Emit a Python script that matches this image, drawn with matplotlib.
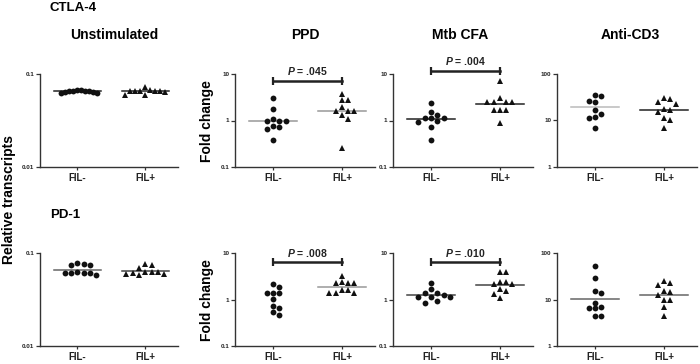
import numpy as np
import matplotlib
matplotlib.use('Agg')
import matplotlib.pyplot as plt

plt.rcParams['font.family'] = ['Liberation Sans', 'DejaVu Sans']
plt.rcParams['mathtext.fontset'] = 'custom'
plt.rcParams['mathtext.it'] = 'Liberation Sans:bold:italic'
plt.rcParams['mathtext.rm'] = 'Liberation Sans:bold'

# ---- data ----
groups = ['FIL-', 'FIL+']
stims = ['Unstimulated', 'PPD', 'Mtb CFA', 'Anti-CD3']
genes = ['CTLA-4', 'PD-1']

ctla_unstim_neg = [0.066, 0.068, 0.064, 0.065, 0.067, 0.063, 0.062, 0.066, 0.065, 0.064]
ctla_unstim_pos = [0.066, 0.065, 0.073, 0.067, 0.059, 0.059, 0.066, 0.065, 0.064, 0.066]
ctla_ppd_neg = [3.1, 1.77, 1.0, 1.0, 1.0, 1.08, 0.74, 0.66, 0.76, 0.39]
ctla_ppd_pos = [3.7, 2.7, 2.7, 1.95, 1.63, 1.63, 1.63, 1.3, 1.08, 0.25]
ctla_mtb_neg = [2.43, 1.53, 1.3, 1.16, 0.97, 1.11, 1.16, 0.91, 0.72, 0.385]
ctla_mtb_pos = [7.2, 3.0, 2.47, 2.47, 2.47, 2.47, 1.69, 1.69, 1.69, 0.88]
ctla_cd3_neg = [34, 35, 26.7, 24.5, 17.1, 14.1, 12, 11.4, 6.9]
ctla_cd3_pos = [29.9, 28.8, 25, 22.6, 17.7, 15.5, 16.6, 11.2, 10.2, 6.9]

pd1_unstim_neg = [0.079, 0.074, 0.074, 0.077, 0.061, 0.061, 0.0575, 0.061, 0.061, 0.062]
pd1_unstim_pos = [0.074, 0.069, 0.076, 0.063, 0.062, 0.061, 0.060, 0.058, 0.060, 0.062]
pd1_ppd_neg = [2.12, 1.86, 1.39, 1.39, 1.39, 1.01, 0.73, 0.645, 0.53, 0.47]
pd1_ppd_pos = [3.19, 2.38, 2.26, 2.26, 2.26, 1.58, 1.41, 1.41, 1.41, 1.58]
pd1_mtb_neg = [2.27, 1.69, 1.39, 1.28, 1.39, 1.12, 1.12, 1.12, 0.85, 0.906]
pd1_mtb_pos = [4.0, 4.0, 2.35, 2.17, 2.17, 2.35, 1.69, 1.56, 1.32, 1.07]
pd1_cd3_neg = [52, 28.9, 15.3, 14.1, 8.6, 6.45, 6.45, 6.9, 4.5, 4.5]
pd1_cd3_pos = [24.5, 20.8, 22.6, 15.3, 14.5, 12.4, 9.7, 10, 6.9, 4.5]

# median lines as drawn (None = not shown)
ctla_medians = [(0.066, 0.066), (1.0, 1.6), (1.07, 2.27), (19.2, 16.6)]
pd1_medians = [(0.065, 0.064), (None, 1.86), (1.22, 2.06), (10.5, 12.4)]

# p values (text, bracket height)
ctla_p = [None, ('.045', 7.1), ('.004', 11.8), None]
pd1_p = [None, ('.008', 6.4), ('.010', 6.4), None]

ylims = [(0.01, 0.1), (0.1, 10), (0.1, 10), (1, 100)]
yticks = [[0.01, 0.1], [0.1, 1, 10], [0.1, 1, 10], [1, 10, 100]]
yticklabels = [['0.01', '0.1'], ['0.1', '1', '10'], ['0.1', '1', '10'], ['1', '10', '100']]

ctla_data = [(ctla_unstim_neg, ctla_unstim_pos), (ctla_ppd_neg, ctla_ppd_pos),
             (ctla_mtb_neg, ctla_mtb_pos), (ctla_cd3_neg, ctla_cd3_pos)]
pd1_data = [(pd1_unstim_neg, pd1_unstim_pos), (pd1_ppd_neg, pd1_ppd_pos),
            (pd1_mtb_neg, pd1_mtb_pos), (pd1_cd3_neg, pd1_cd3_pos)]

# line colours per panel (FIL-, FIL+)
ctla_linecol = [('#222222', '#222222'), ('#999999', '#999999'), ('#222222', '#222222'), ('#bbbbbb', '#222222')]
pd1_linecol = [('#666666', '#444444'), ('#999999', '#999999'), ('#444444', '#444444'), ('#666666', '#666666')]

W, H = 700, 364
fig = plt.figure(figsize=(7, 3.64), dpi=100)

lefts = [40, 235, 393, 557]
widths = [138, 140, 140, 140]
row_top = [74, 253]
row_h = 93


def swarm(ax, x0, vals, step=6.3, dist=5.8, max_half=20):
    # spread points of similar value sideways (in pixels), GraphPad-like
    pts = ax.transData.transform(np.column_stack([np.full(len(vals), x0), vals]))
    ys = pts[:, 1]
    order = np.argsort(-ys)
    placed = []
    offs = np.zeros(len(vals))
    for i in order:
        k = 0
        while True:
            cands = [0] if k == 0 else [k * step, -k * step]
            ok = None
            for c in cands:
                if all(np.hypot(c - px, ys[i] - py) >= dist for px, py in placed):
                    ok = c
                    break
            if ok is not None:
                offs[i] = ok
                placed.append((ok, ys[i]))
                break
            k += 1
    if len(offs) and np.abs(offs).max() > max_half:
        offs = offs * max_half / np.abs(offs).max()
    px_per_unit = ax.transData.transform((1, 1))[0] - ax.transData.transform((0, 1))[0]
    return x0 + offs / px_per_unit


for r, (data, meds, pv, lcols) in enumerate([(ctla_data, ctla_medians, ctla_p, ctla_linecol),
                                             (pd1_data, pd1_medians, pd1_p, pd1_linecol)]):
    for c in range(4):
        l = lefts[c] / W
        b = 1 - (row_top[r] + row_h) / H
        ax = fig.add_axes([l, b, widths[c] / W, row_h / H])
        ax.set_yscale('log')
        ax.set_ylim(*ylims[c])
        ax.set_xlim(0.45, 2.48)
        for g, vals in enumerate(data[c]):
            xpos = swarm(ax, g + 1, vals)
            mk = 'o' if g == 0 else '^'
            ms = 4.2 if g == 0 else 4.4
            ax.plot(xpos, vals, mk, color='#111111', ms=ms, mew=0, zorder=3)
            m = meds[c][g]
            if m is not None:
                ax.plot([g + 1 - 0.35, g + 1 + 0.35], [m, m], color=lcols[c][g], lw=1.1, zorder=2)
        if pv[c] is not None:
            txt, yb = pv[c]
            ax.plot([1, 2], [yb, yb], color='#222222', lw=1.8, clip_on=False, zorder=4)
            ax.plot([1, 2], [yb, yb], ls='none', marker='|', ms=6, mew=1.6, color='#222222',
                    clip_on=False, zorder=4)
            ax.annotate(r'$P$ = ' + txt, xy=(1.5, yb), xytext=(0, 2.5), textcoords='offset points',
                        ha='center', va='bottom', fontsize=7.5, fontweight='bold', color='#222222',
                        annotation_clip=False)
        ax.set_yticks(yticks[c])
        ax.set_yticklabels(yticklabels[c])
        ax.yaxis.set_minor_locator(matplotlib.ticker.NullLocator())
        ax.set_xticks([1, 2])
        ax.set_xticklabels(groups)
        ax.tick_params(axis='y', labelsize=4.5, length=3, width=0.9, pad=1, colors='#333333')
        ax.tick_params(axis='x', labelsize=7, length=2, width=0.9, pad=2.2, colors='#333333')
        for t in ax.get_xticklabels() + ax.get_yticklabels():
            t.set_fontweight('bold')
            t.set_color('#222222')
        for s in ['top', 'right']:
            ax.spines[s].set_visible(False)
        for s in ['left', 'bottom']:
            ax.spines[s].set_color('#333333')
            ax.spines[s].set_linewidth(1.0)

# titles and labels
title_x = [114, 305, 460, 630]
for c, name in enumerate(stims):
    fig.text(title_x[c] / W, 1 - 35 / H, name, ha='center', va='center', fontsize=10, fontweight='bold')
fig.text(50 / W, 1 - 8 / H, genes[0], ha='left', va='center', fontsize=9.5, fontweight='bold')
fig.text(50 / W, 1 - 215 / H, genes[1], ha='left', va='center', fontsize=9.5, fontweight='bold')
fig.text(9 / W, 1 - 200 / H, 'Relative transcripts', rotation=90, ha='center', va='center',
         fontsize=10, fontweight='bold')
for yc in [121, 300]:
    fig.text(207 / W, 1 - yc / H, 'Fold change', rotation=90, ha='center', va='center',
             fontsize=10, fontweight='bold')

fig.savefig('out.png', dpi=100, facecolor='white')
